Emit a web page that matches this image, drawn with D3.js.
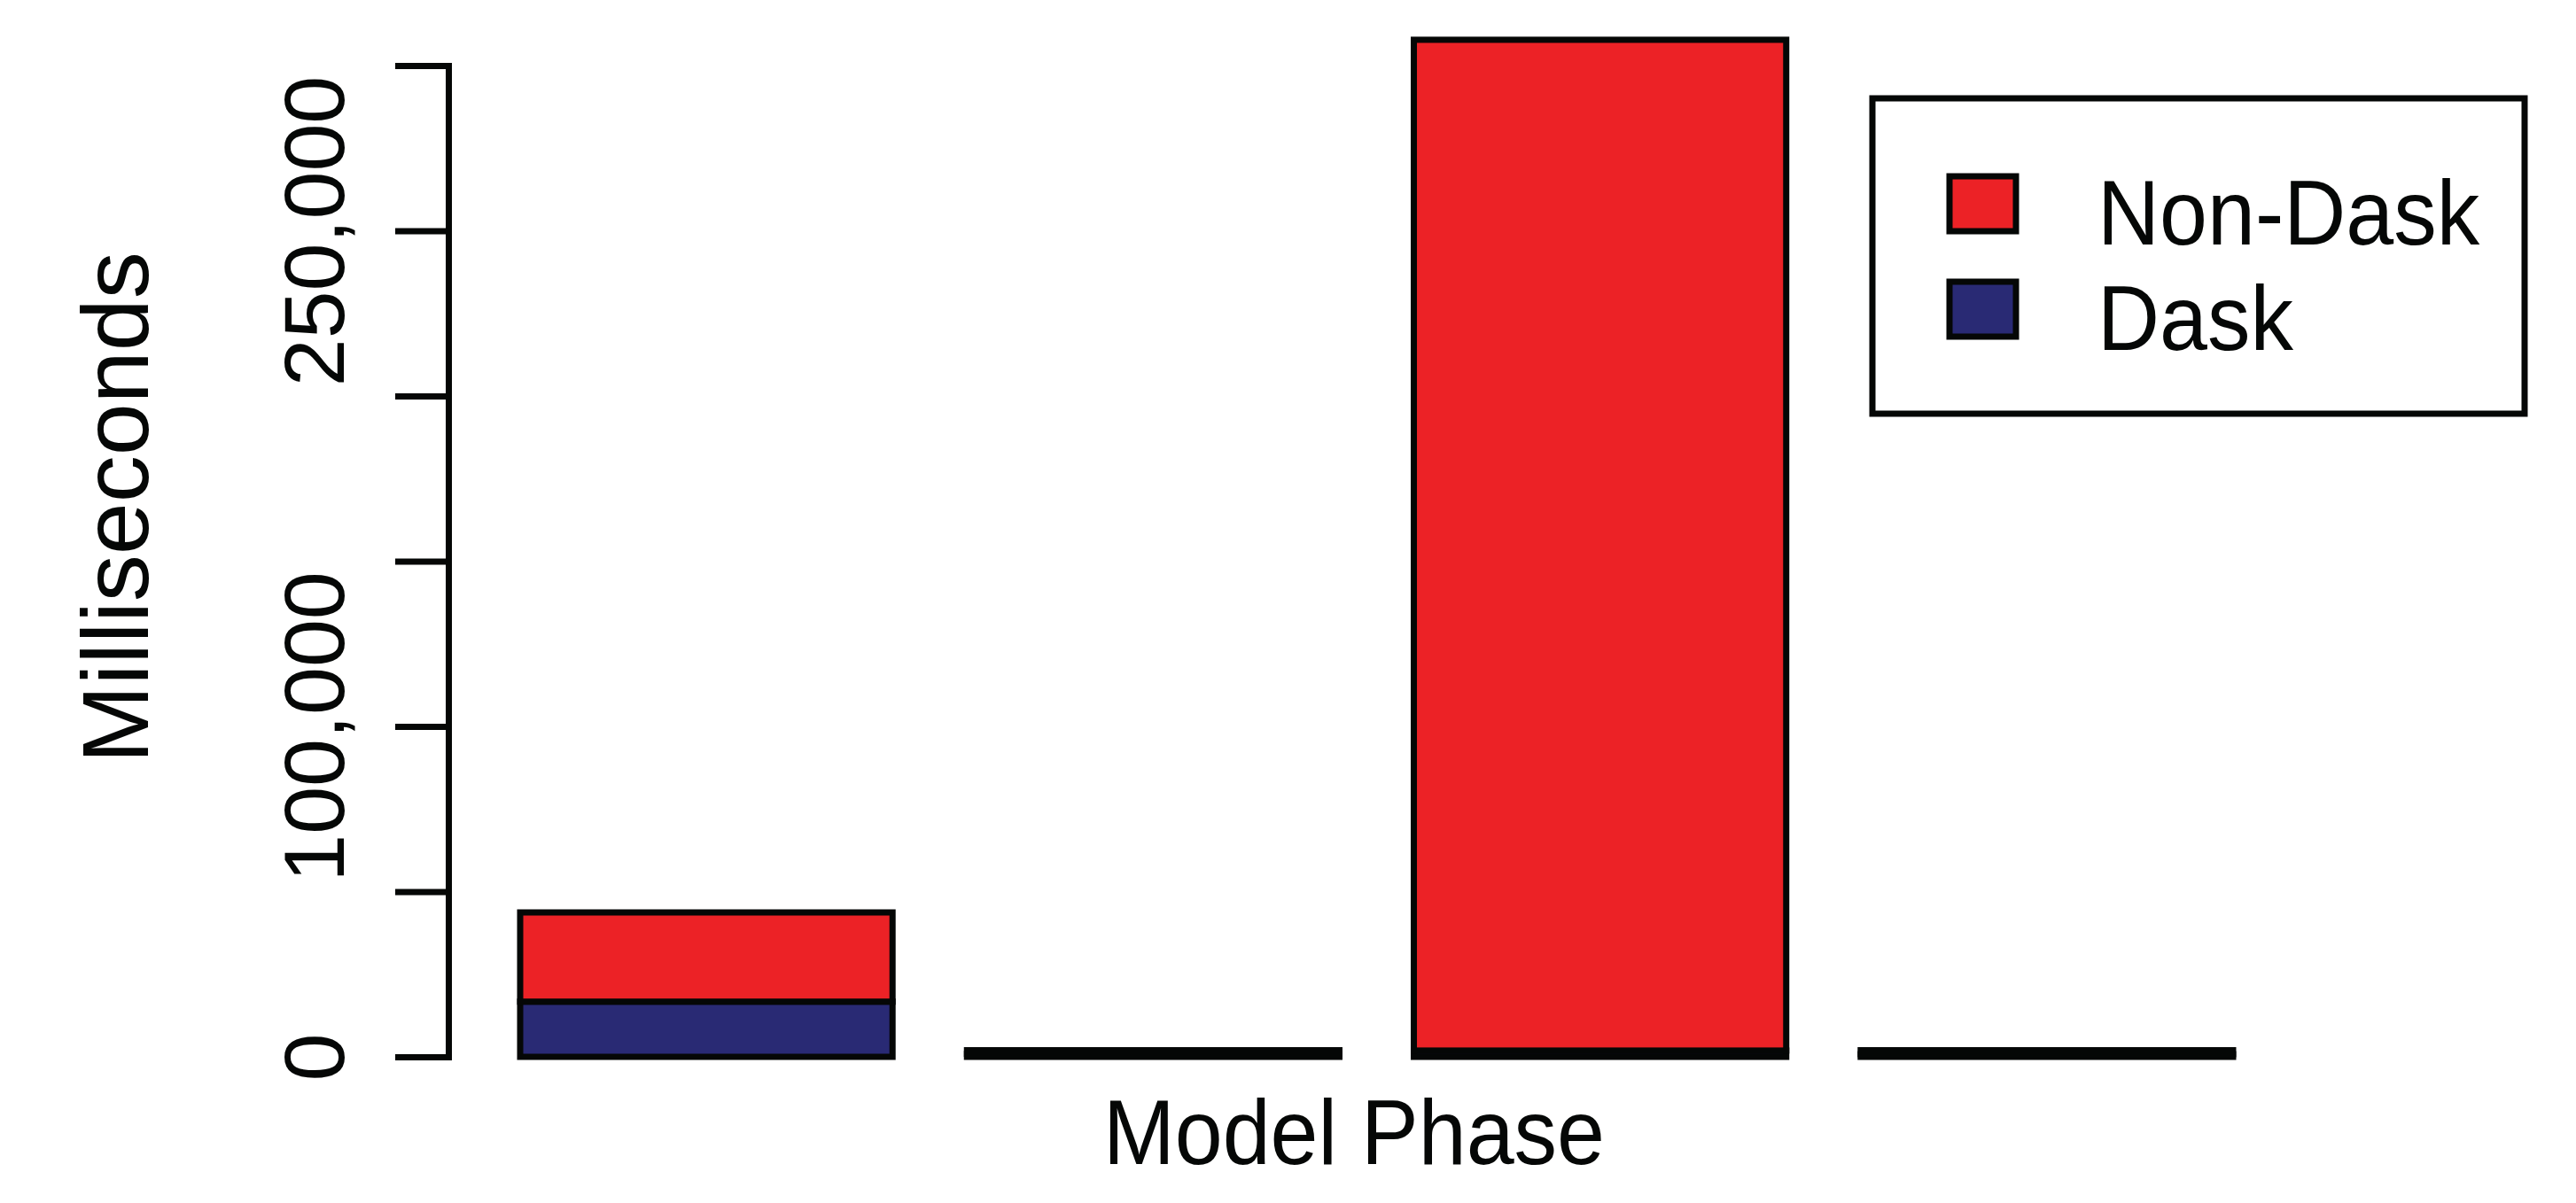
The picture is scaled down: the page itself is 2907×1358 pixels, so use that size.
<!DOCTYPE html>
<html>
<head>
<meta charset="utf-8">
<script src="https://cdn.jsdelivr.net/npm/d3@7"></script>
<style>
  body { margin: 0; background: #fff; }
  text { font-family: "Liberation Sans", Arial, sans-serif; fill: #050706; }
</style>
</head>
<body>
<div id="container"></div>
<script>
// values (milliseconds)
const phases = ["1", "2", "3", "4"];
const daskMs = [16700, 900, 1900, 800];
const nonDaskMs = [27000, 1100, 305900, 1200];
const seriesNames = ["Non-Dask", "Dask"];
const seriesColors = ["#ec2226", "#292a74"];
const yTicks = [0, 50000, 100000, 150000, 200000, 250000, 300000];
const yTickLabels = [0, 100000, 250000]; // R drops the rest (overlap)

const width = 2907;
const height = 1358;
const ink = "#050706";
const lw = 7;

const rows = phases.map((p, i) => ({ phase: p, dask: daskMs[i], nonDask: nonDaskMs[i] }));
const stacked = d3.stack().keys(["dask", "nonDask"])(rows);
const colorOf = { dask: seriesColors[1], nonDask: seriesColors[0] };

const svg = d3.select("#container")
  .append("svg")
  .attr("width", width)
  .attr("height", height);

const x = d3.scaleBand()
  .domain(phases)
  .range([587, 2520])
  .paddingInner(1 / 6)
  .paddingOuter(0);

const y = d3.scaleLinear()
  .domain([0, 300000])
  .range([1193, 74]);

// bars
svg.append("g")
  .selectAll("g")
  .data(stacked)
  .enter()
  .append("g")
  .attr("fill", s => colorOf[s.key])
  .selectAll("rect")
  .data(s => s)
  .enter()
  .append("rect")
  .attr("x", d => x(d.data.phase))
  .attr("y", d => y(d[1]))
  .attr("width", x.bandwidth())
  .attr("height", d => y(d[0]) - y(d[1]))
  .attr("stroke", ink)
  .attr("stroke-width", lw);

// y axis
const yAxis = svg.append("g")
  .attr("transform", "translate(506,0)")
  .call(d3.axisLeft(y)
    .tickValues(yTicks)
    .tickSize(60)
    .tickSizeOuter(0)
    .tickFormat(v => yTickLabels.includes(v) ? d3.format(",")(v) : ""));

yAxis.select(".domain").attr("stroke", ink).attr("stroke-width", lw).attr("stroke-linecap", "square");
yAxis.selectAll(".tick line").attr("stroke", ink).attr("stroke-width", lw);
yAxis.selectAll(".tick text")
  .attr("x", 0)
  .attr("y", 0)
  .attr("dy", 0)
  .attr("transform", "translate(-118,0) rotate(-90)")
  .attr("text-anchor", "middle")
  .style("font-size", "97px")
  .style("font-family", "'Liberation Sans', Arial, sans-serif")
  .attr("fill", ink);

// axis titles
svg.append("text")
  .attr("transform", "translate(167,573) rotate(-90)")
  .attr("text-anchor", "middle")
  .style("font-size", "106px")
  .text("Milliseconds");

svg.append("text")
  .attr("transform", "translate(1528,1314) scale(1,1.065)")
  .attr("text-anchor", "middle")
  .style("font-size", "97px")
  .text("Model Phase");

// legend
const legend = svg.append("g").attr("id", "legend");
legend.append("rect")
  .attr("x", 2113).attr("y", 111)
  .attr("width", 736).attr("height", 356)
  .attr("fill", "#fff")
  .attr("stroke", ink)
  .attr("stroke-width", lw);

const items = legend.selectAll(".item")
  .data(seriesNames)
  .enter()
  .append("g")
  .attr("class", "item")
  .attr("transform", (_, i) => `translate(0,${i * 119})`);

items.append("rect")
  .attr("x", 2200).attr("y", 199)
  .attr("width", 75).attr("height", 62)
  .attr("fill", (_, i) => seriesColors[i])
  .attr("stroke", ink)
  .attr("stroke-width", lw);

items.append("text")
  .attr("transform", "translate(2367,276) scale(1,1.065)")
  .style("font-size", "97px")
  .text(d => d);
</script>
</body>
</html>
